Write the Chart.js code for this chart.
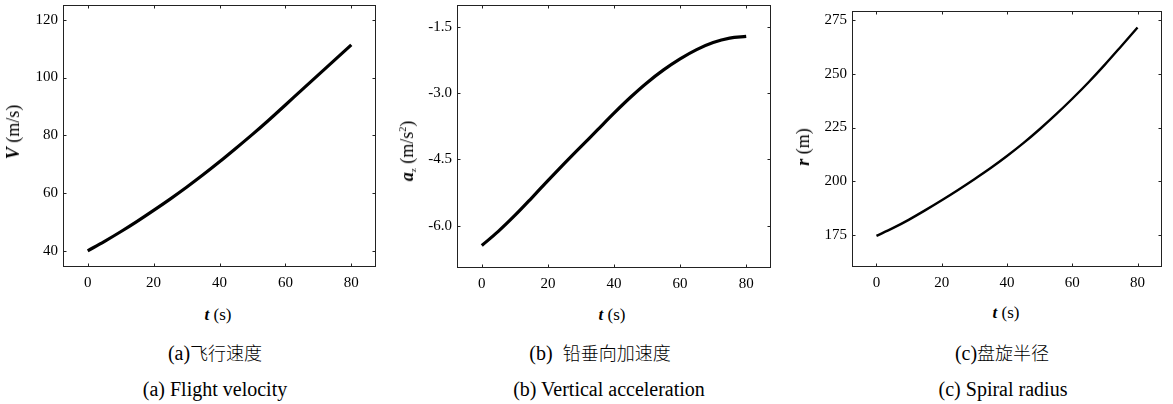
<!DOCTYPE html>
<html>
<head>
<meta charset="utf-8">
<script src="https://cdn.jsdelivr.net/npm/chart.js@4"></script>
<style>
  body { margin: 0; background: #fff; }
  #page { position: relative; width: 1173px; height: 404px; overflow: hidden; font-family: "Liberation Serif", "Times New Roman", Tinos, "DejaVu Serif", serif; color: #000; }
  canvas { position: absolute; top: 0; }
  .lbl { position: absolute; white-space: nowrap; line-height: 1; transform: translate(-50%, -50%); }
  .ytitle { font-size: 18px; transform: translate(-50%, -50%) rotate(-90deg); }
  .xtitle { font-size: 17px; }
  .cap { font-size: 20px; }
  .cap .zh { font-family: "Noto Sans CJK SC", sans-serif; font-size: 18px; font-weight: 300; }
  sub { font-size: 9px; vertical-align: -3px; }
  sup { font-size: 10px; vertical-align: 7px; }
</style>
</head>
<body>
<div id="page">
  <canvas id="chartA"></canvas>
  <canvas id="chartB"></canvas>
  <canvas id="chartC"></canvas>

  <div class="lbl ytitle" style="left:13px;top:132px"><b><i>V</i></b> (m/s)</div>
  <div class="lbl ytitle" style="left:408px;top:151px"><b><i>a</i></b><sub>z</sub> (m/s<sup>2</sup>)</div>
  <div class="lbl ytitle" style="left:803px;top:147px"><b><i>r</i></b> (m)</div>

  <div class="lbl xtitle" style="left:218px;top:314px"><b><i>t</i></b> (s)</div>
  <div class="lbl xtitle" style="left:612px;top:314px"><b><i>t</i></b> (s)</div>
  <div class="lbl xtitle" style="left:1006px;top:312px"><b><i>t</i></b> (s)</div>

  <div class="lbl cap" style="left:215px;top:353px">(a)<span class="zh">飞行速度</span></div>
  <div class="lbl cap" style="left:215px;top:389px">(a) Flight velocity</div>
  <div class="lbl cap" style="left:600px;top:353px">(b)&nbsp;&nbsp;<span class="zh">铅垂向加速度</span></div>
  <div class="lbl cap" style="left:609px;top:389px">(b) Vertical acceleration</div>
  <div class="lbl cap" style="left:1002px;top:353px">(c)<span class="zh">盘旋半径</span></div>
  <div class="lbl cap" style="left:1003px;top:389px">(c) Spiral radius</div>
</div>

<script>
// time samples (s)
const tSec = [0, 5, 10, 15, 20, 25, 30, 35, 40, 45, 50, 55, 60, 65, 70, 75, 80];
// (a) flight velocity V (m/s)
const velocity = [40.0, 43.2, 46.6, 50.2, 54.0, 57.9, 62.0, 66.3, 70.8, 75.5, 80.3, 85.3, 90.5, 95.7, 100.9, 106.1, 111.3];
// (b) vertical acceleration a_z (m/s^2)
const accelZ = [-6.45, -6.13, -5.77, -5.38, -4.98, -4.59, -4.21, -3.83, -3.45, -3.09, -2.76, -2.47, -2.22, -2.01, -1.85, -1.75, -1.71];
// (c) spiral radius r (m)
const radius = [174.5, 178.1, 182.1, 186.5, 191.1, 195.9, 200.9, 206.1, 211.7, 217.7, 224.2, 231.1, 238.4, 246.1, 254.3, 262.9, 271.6];

const xTicks = [0, 20, 40, 60, 80];
const velTicks = [40, 60, 80, 100, 120];
const accTicks = [-6.0, -4.5, -3.0, -1.5];
const radTicks = [175, 200, 225, 250, 275];

const Y_AXIS_W = 50;
const X_AXIS_H = 35;
const TICK_LEN = 3;
const SERIF = '"Liberation Serif", "Times New Roman", Tinos, "DejaVu Serif", serif';

// frame + inward ticks on all four sides
const framePlugin = {
  id: 'frame',
  afterDraw(chart) {
    const { ctx, chartArea: a, scales } = chart;
    const L = Math.round(a.left) + 0.5, R = Math.round(a.right) - 0.5;
    const T = Math.round(a.top) + 0.5, B = Math.round(a.bottom) - 0.5;
    ctx.save();
    ctx.strokeStyle = '#222';
    ctx.lineWidth = 1;
    ctx.strokeRect(L, T, R - L, B - T);
    ctx.beginPath();
    scales.x.ticks.forEach(tk => {
      const px = Math.round(scales.x.getPixelForValue(tk.value)) + 0.5;
      ctx.moveTo(px, B); ctx.lineTo(px, B - TICK_LEN);
      ctx.moveTo(px, T); ctx.lineTo(px, T + TICK_LEN);
    });
    scales.y.ticks.forEach(tk => {
      const py = Math.round(scales.y.getPixelForValue(tk.value)) + 0.5;
      ctx.moveTo(L, py); ctx.lineTo(L + TICK_LEN, py);
      ctx.moveTo(R, py); ctx.lineTo(R - TICK_LEN, py);
    });
    ctx.stroke();
    ctx.restore();
  }
};

function makePanel(id, box, yVals, yMin, yMax, yTicks, fmt, lineWidth) {
  const cv = document.getElementById(id);
  cv.width = (box.right - box.left) + Y_AXIS_W + 4;
  cv.height = box.bottom + X_AXIS_H;
  cv.style.left = (box.left - Y_AXIS_W) + 'px';
  const font = { family: SERIF, size: 15 };

  return new Chart(cv, {
    type: 'line',
    data: {
      datasets: [{
        data: tSec.map((t, i) => ({ x: t, y: yVals[i] })),
        borderColor: '#000',
        borderWidth: lineWidth,
        pointRadius: 0,
        cubicInterpolationMode: 'monotone',
        fill: false
      }]
    },
    options: {
      responsive: false, animation: false, devicePixelRatio: 1,
      layout: { padding: { top: box.top, right: 4, left: 0, bottom: 0 } },
      plugins: { legend: { display: false }, tooltip: { enabled: false } },
      scales: {
        x: {
          type: 'linear', min: -7.5, max: 87.5,
          afterBuildTicks: s => { s.ticks = xTicks.map(v => ({ value: v })); },
          afterFit: s => { s.height = X_AXIS_H; s.paddingLeft = 0; s.paddingRight = 0; },
          grid: { display: false, drawTicks: false },
          border: { display: false },
          ticks: { color: '#000', font, padding: 7, maxRotation: 0 }
        },
        y: {
          min: yMin, max: yMax,
          afterBuildTicks: s => { s.ticks = yTicks.map(v => ({ value: v })); },
          afterFit: s => { s.width = Y_AXIS_W; s.paddingTop = 0; s.paddingBottom = 0; },
          grid: { display: false, drawTicks: false },
          border: { display: false },
          ticks: { color: '#000', font, padding: 5, callback: v => fmt(v) }
        }
      }
    },
    plugins: [framePlugin]
  });
}

makePanel('chartA', { left: 63, top: 5, right: 376, bottom: 267 }, velocity, 34.4, 125.1, velTicks, v => String(v), 3.2);
makePanel('chartB', { left: 457, top: 5, right: 771, bottom: 268 }, accelZ, -6.96, -1.0, accTicks, v => v.toFixed(1), 3.2);
makePanel('chartC', { left: 852, top: 11, right: 1162, bottom: 267 }, radius, 160, 279.3, radTicks, v => String(v), 2.4);
</script>
</body>
</html>
